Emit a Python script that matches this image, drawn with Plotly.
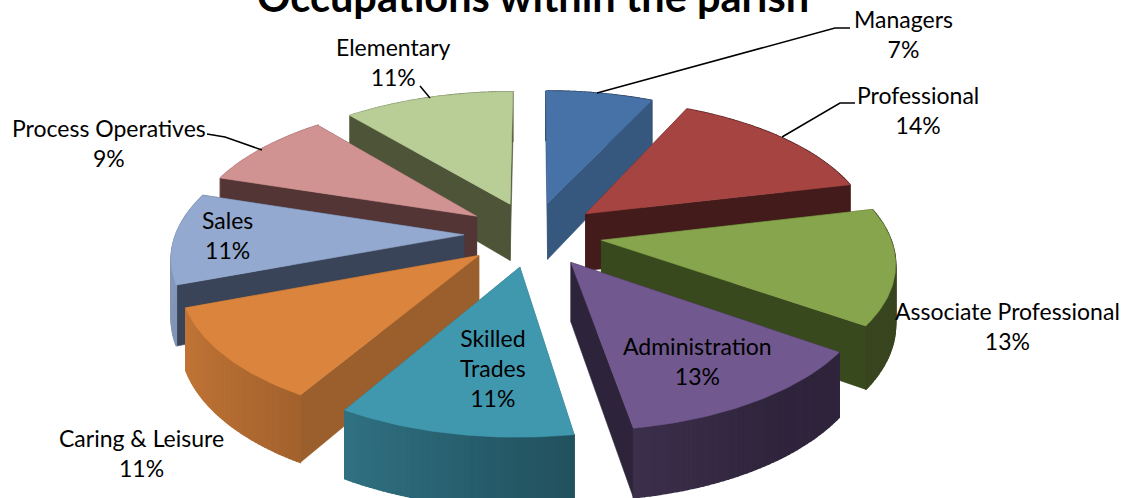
import numpy as np
import plotly.graph_objects as go

# Data
categories = ["Managers", "Professional", "Associate Professional", "Administration",
              "Skilled Trades", "Caring & Leisure", "Sales", "Process Operatives", "Elementary"]
values = [7, 14.3, 13.4, 12.7, 11.1, 10.8, 10.6, 9, 11.1]
top_colors = ["#4672A8", "#A64441", "#87A54C", "#71588F", "#4098AF", "#DB843D", "#93A9CF", "#D19392", "#B9CD96"]
cut_colors = ["#36587F", "#421B1A", "#38491E", "#2D233A", "#2D6B7B", "#9A5F2C", "#3A4459", "#533535", "#4D5438"]
label_text = ["Managers<br>7%", "Professional<br>14%", "Associate Professional<br>13%", "Administration<br>13%",
              "Skilled<br>Trades<br>11%", "Caring &amp; Leisure<br>11%", "Sales<br>11%", "Process Operatives<br>9%",
              "Elementary<br>11%"]
label_x = [903, 918, 1007, 697, 493, 141, 227, 109, 393]
label_y = [34, 110, 326, 361, 368, 453, 235, 143, 62]
title_text = "<b>Occupations within the parish</b>"

# Projection settings for the 3D look
CX, CY, RX, RY, K, DEPTH, EXPLODE = 533, 234, 288, 136, 0.14, 58, 0.24
FONT = "Lato"


def project(u, v, down=0.0):
    p = 1.0 / (1.0 - K * v)
    return CX + RX * u * p, CY + RY * v * p + DEPTH * down * p


def hex_scale(col, f):
    r, g, b = int(col[1:3], 16), int(col[3:5], 16), int(col[5:7], 16)
    return f"rgb({int(r * f)},{int(g * f)},{int(b * f)})"


fig = go.Figure()


def poly(xs, ys, color, width=0.6):
    fig.add_trace(go.Scatter(x=list(xs), y=list(ys), mode="lines", fill="toself",
                             fillcolor=color, line=dict(color=color, width=width),
                             hoverinfo="skip", showlegend=False))


total = sum(values)
edges = np.concatenate([[0], np.cumsum(values)]) / total * 2 * np.pi
mids = (edges[:-1] + edges[1:]) / 2
order = np.argsort(-np.cos(mids))  # back to front

for i in order:
    a0, a1, m = edges[i], edges[i + 1], mids[i]
    ou, ov = EXPLODE * np.sin(m), -EXPLODE * np.cos(m)
    t = np.linspace(a0, a1, 49)
    au, av = ou + np.sin(t), ov - np.cos(t)

    def arc_seg(j):
        x1, y1 = project(au[j], av[j])
        x2, y2 = project(au[j + 1], av[j + 1])
        x3, y3 = project(au[j + 1], av[j + 1], 1)
        x4, y4 = project(au[j], av[j], 1)
        shade = np.interp(np.sin((t[j] + t[j + 1]) / 2), [-1, 0, 0.6], [0.9, 0.58, 0.42])
        poly([x1, x2, x3, x4, x1], [y1, y2, y3, y4, y1], hex_scale(top_colors[i], shade), 1.5)

    # back part of the rim
    for j in range(len(t) - 1):
        if np.cos((t[j] + t[j + 1]) / 2) > 0:
            arc_seg(j)
    # two cut faces
    for k in (0, -1):
        pts = [project(ou, ov), project(au[k], av[k]), project(au[k], av[k], 1), project(ou, ov, 1)]
        poly([q[0] for q in pts + pts[:1]], [q[1] for q in pts + pts[:1]], cut_colors[i])
    # front part of the rim
    for j in range(len(t) - 1):
        if np.cos((t[j] + t[j + 1]) / 2) <= 0:
            arc_seg(j)
    # top face
    xt, yt = project(np.r_[ou, au, ou], np.r_[ov, av, ov])
    poly(xt, yt, top_colors[i])

annotations = [dict(x=x, y=y, text=s, xref="x", yref="y", showarrow=False, xanchor="center", yanchor="middle",
                    font=dict(family=FONT, size=23, color="#000000"), align="center")
               for x, y, s in zip(label_x, label_y, label_text)]
annotations.append(dict(x=533 / 1123, y=1 + 4 / 498, text=title_text, xref="paper", yref="paper", showarrow=False,
                        xanchor="center", yanchor="middle",
                        font=dict(family=FONT, size=41.5, color="#000000")))

leaders = [([597, 835, 850], [93, 28, 28]),
           ([782, 840, 855], [137, 103, 103]),
           ([430, 420], [98, 86]),
           ([262, 225, 207], [150, 137, 134])]
shapes = [dict(type="path", xref="x", yref="y", line=dict(color="#000000", width=1.5),
               path="M" + " L".join(f"{a},{b}" for a, b in zip(xs, ys))) for xs, ys in leaders]

fig.update_layout(width=1123, height=498, margin=dict(l=0, r=0, t=0, b=0),
                  paper_bgcolor="#FFFFFF", plot_bgcolor="#FFFFFF", showlegend=False,
                  xaxis=dict(range=[0, 1123], visible=False, fixedrange=True),
                  yaxis=dict(range=[498, 0], visible=False, fixedrange=True),
                  annotations=annotations, shapes=shapes)
fig.write_html("out.html", config={"displayModeBar": False}, post_script="document.body.style.margin='0';")
